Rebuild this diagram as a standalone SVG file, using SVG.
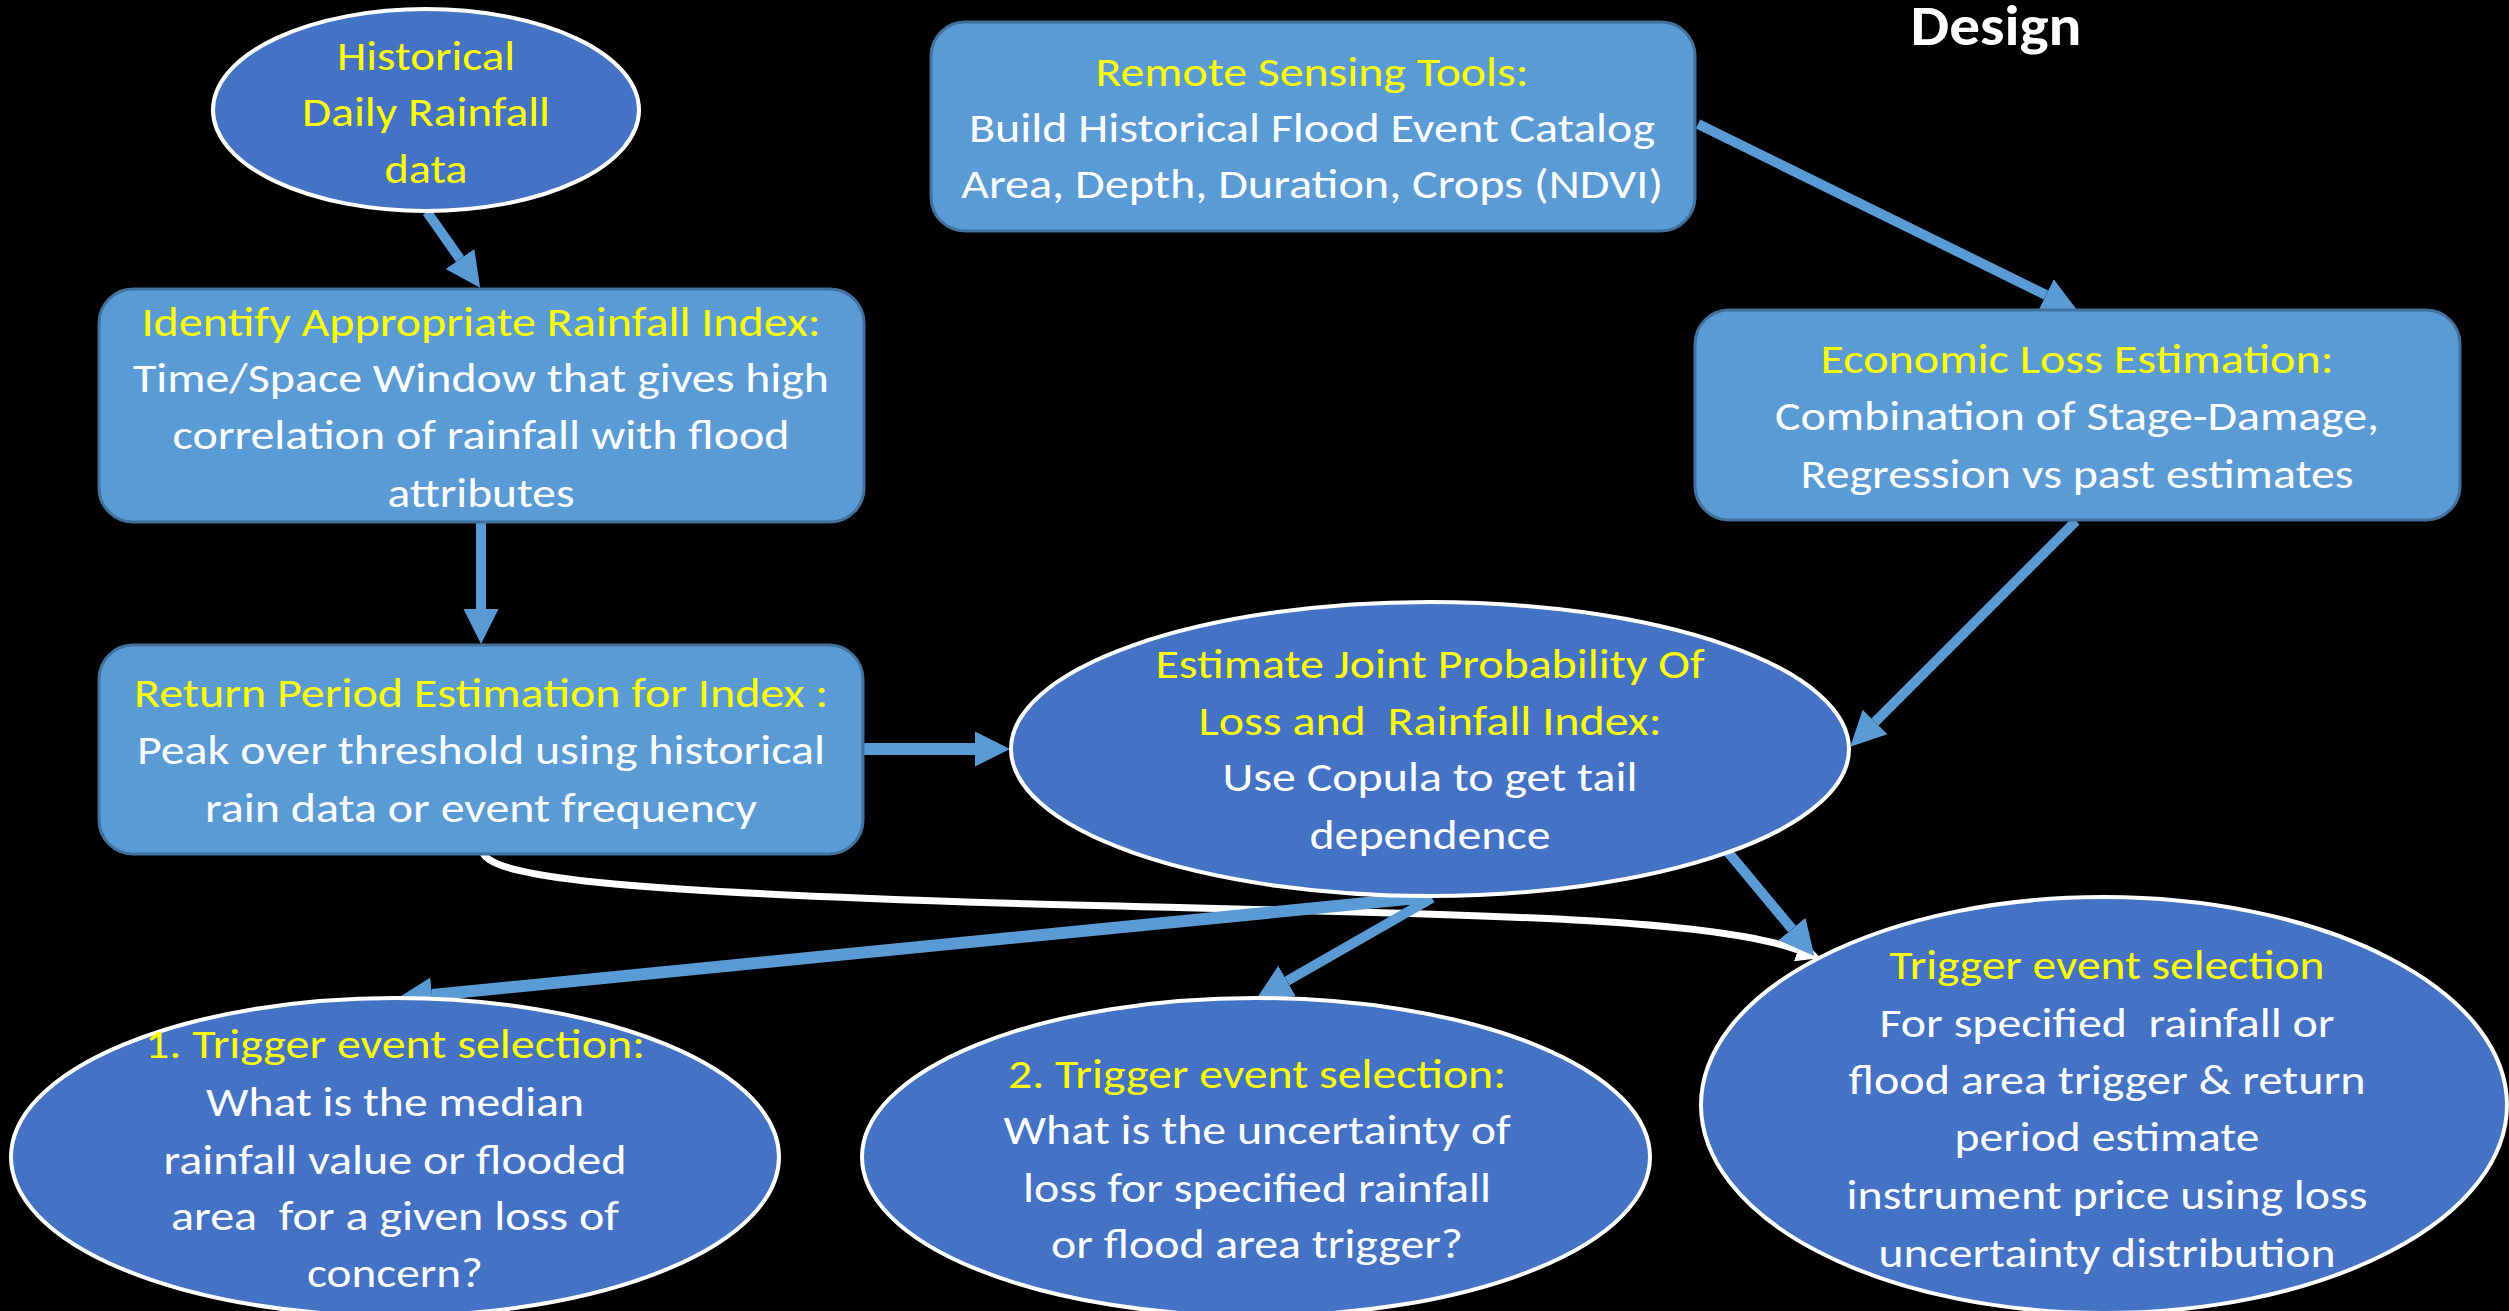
<svg xmlns="http://www.w3.org/2000/svg" width="2509" height="1311" viewBox="0 0 2509 1311">
<defs>
<style>
.box{fill:#5B9BD5;stroke:#41719C;stroke-width:3}
.oval{fill:#4472C4;stroke:#FFFFFF;stroke-width:4}
text{font-family:Carlito,Calibri,Lato,"Open Sans",sans-serif;font-size:40px;text-anchor:middle;white-space:pre}
.y{fill:#FFFF00}
.w{fill:#FFFFFF}
.c{stroke:#5B9BD5;fill:none;stroke-width:10}
.c12{stroke-width:12}
.wc{stroke:#FFFFFF;fill:none;stroke-width:7}
</style>
<marker id="ab" markerUnits="userSpaceOnUse" markerWidth="36" markerHeight="36" viewBox="0 -18 36 36" refX="0" refY="0" orient="auto"><path d="M0,-17.5 L35,0 L0,17.5 z" fill="#5B9BD5"/></marker>
<marker id="aw" markerUnits="userSpaceOnUse" markerWidth="26" markerHeight="26" viewBox="0 -13 26 26" refX="0" refY="0" orient="auto"><path d="M0,-12 L24,0 L0,12 z" fill="#FFFFFF"/></marker>
</defs>
<rect x="0" y="0" width="2509" height="1311" fill="#000000"/>
<text x="1996" y="45" class="w" style="font-weight:bold;font-size:56px" textLength="171" lengthAdjust="spacingAndGlyphs">Design</text>
<g id="connectors">
<path class="wc" d="M483,853 C495,880 650,892 1000,903 C1450,915 1700,915 1798,950" marker-end="url(#aw)"/>
<path class="c" d="M1432,898 L1287,981" marker-end="url(#ab)"/>
<path class="c c12" d="M1428,897 L432,995" marker-end="url(#ab)"/>
<path class="c" d="M427,212 L460,259" marker-end="url(#ab)"/>
<path class="c" d="M481,522 L481,609" marker-end="url(#ab)"/>
<path class="c c12" d="M862,749 L975,749" marker-end="url(#ab)"/>
<path class="c" d="M1698,124 L2046,295" marker-end="url(#ab)"/>
<path class="c" d="M2076,521 L1875,722" marker-end="url(#ab)"/>
<path class="c" d="M1728,852 L1792,929" marker-end="url(#ab)"/>
</g>
<g id="node-rainfall-data">
<ellipse class="oval" cx="426" cy="110" rx="213" ry="101"/>
<text x="426" y="70" class="y" textLength="178" lengthAdjust="spacingAndGlyphs">Historical</text>
<text x="426" y="126" class="y" textLength="248" lengthAdjust="spacingAndGlyphs">Daily Rainfall</text>
<text x="426" y="183" class="y" textLength="83" lengthAdjust="spacingAndGlyphs">data</text>
</g>
<g id="node-rainfall-index">
<rect class="box" x="99" y="289" width="765" height="233" rx="34"/>
<text x="481" y="336" class="y" textLength="679" lengthAdjust="spacingAndGlyphs">Identify Appropriate Rainfall Index:</text>
<text x="481" y="392" class="w" textLength="696" lengthAdjust="spacingAndGlyphs">Time/Space Window that gives high</text>
<text x="481" y="449" class="w" textLength="617" lengthAdjust="spacingAndGlyphs">correlation of rainfall with flood</text>
<text x="481" y="507" class="w" textLength="187" lengthAdjust="spacingAndGlyphs">attributes</text>
</g>
<g id="node-remote-sensing">
<rect class="box" x="931" y="22" width="764" height="209" rx="34"/>
<text x="1312" y="86" class="y" textLength="433" lengthAdjust="spacingAndGlyphs">Remote Sensing Tools:</text>
<text x="1312" y="142" class="w" textLength="686" lengthAdjust="spacingAndGlyphs">Build Historical Flood Event Catalog</text>
<text x="1312" y="198" class="w" textLength="702" lengthAdjust="spacingAndGlyphs">Area, Depth, Duration, Crops (NDVI)</text>
</g>
<g id="node-economic-loss">
<rect class="box" x="1695" y="310" width="765" height="210" rx="34"/>
<text x="2077" y="373" class="y" textLength="513" lengthAdjust="spacingAndGlyphs">Economic Loss Estimation:</text>
<text x="2077" y="430" class="w" textLength="604" lengthAdjust="spacingAndGlyphs">Combination of Stage-Damage,</text>
<text x="2077" y="488" class="w" textLength="553" lengthAdjust="spacingAndGlyphs">Regression vs past estimates</text>
</g>
<g id="node-return-period">
<rect class="box" x="99" y="645" width="764" height="209" rx="34"/>
<text x="481" y="707" class="y" textLength="694" lengthAdjust="spacingAndGlyphs">Return Period Estimation for Index :</text>
<text x="481" y="764" class="w" textLength="688" lengthAdjust="spacingAndGlyphs">Peak over threshold using historical</text>
<text x="481" y="822" class="w" textLength="552" lengthAdjust="spacingAndGlyphs">rain data or event frequency</text>
</g>
<g id="node-joint-probability">
<ellipse class="oval" cx="1430" cy="749" rx="419" ry="147"/>
<text x="1430" y="678" class="y" textLength="549" lengthAdjust="spacingAndGlyphs">Estimate Joint Probability Of</text>
<text x="1430" y="735" class="y" textLength="463" lengthAdjust="spacingAndGlyphs" xml:space="preserve">Loss and  Rainfall Index:</text>
<text x="1430" y="791" class="w" textLength="415" lengthAdjust="spacingAndGlyphs">Use Copula to get tail</text>
<text x="1430" y="849" class="w" textLength="241" lengthAdjust="spacingAndGlyphs">dependence</text>
</g>
<g id="node-trigger-1">
<ellipse class="oval" cx="395" cy="1157" rx="384" ry="159"/>
<text x="395" y="1058" class="y" textLength="500" lengthAdjust="spacingAndGlyphs">1. Trigger event selection:</text>
<text x="395" y="1116" class="w" textLength="378" lengthAdjust="spacingAndGlyphs">What is the median</text>
<text x="395" y="1174" class="w" textLength="463" lengthAdjust="spacingAndGlyphs">rainfall value or flooded</text>
<text x="395" y="1230" class="w" textLength="448" lengthAdjust="spacingAndGlyphs" xml:space="preserve">area  for a given loss of</text>
<text x="395" y="1287" class="w" textLength="176" lengthAdjust="spacingAndGlyphs">concern?</text>
</g>
<g id="node-trigger-2">
<ellipse class="oval" cx="1256" cy="1157" rx="394" ry="159"/>
<text x="1257" y="1088" class="y" textLength="498" lengthAdjust="spacingAndGlyphs">2. Trigger event selection:</text>
<text x="1257" y="1144" class="w" textLength="507" lengthAdjust="spacingAndGlyphs">What is the uncertainty of</text>
<text x="1257" y="1202" class="w" textLength="468" lengthAdjust="spacingAndGlyphs">loss for specified rainfall</text>
<text x="1257" y="1258" class="w" textLength="412" lengthAdjust="spacingAndGlyphs">or flood area trigger?</text>
</g>
<g id="node-trigger-3">
<ellipse class="oval" cx="2104" cy="1105" rx="403" ry="208"/>
<text x="2107" y="979" class="y" textLength="435" lengthAdjust="spacingAndGlyphs">Trigger event selection</text>
<text x="2107" y="1037" class="w" textLength="455" lengthAdjust="spacingAndGlyphs" xml:space="preserve">For specified  rainfall or</text>
<text x="2107" y="1094" class="w" textLength="517" lengthAdjust="spacingAndGlyphs">flood area trigger &amp; return</text>
<text x="2107" y="1151" class="w" textLength="305" lengthAdjust="spacingAndGlyphs">period estimate</text>
<text x="2107" y="1209" class="w" textLength="521" lengthAdjust="spacingAndGlyphs">instrument price using loss</text>
<text x="2107" y="1267" class="w" textLength="457" lengthAdjust="spacingAndGlyphs">uncertainty distribution</text>
</g>
</svg>
